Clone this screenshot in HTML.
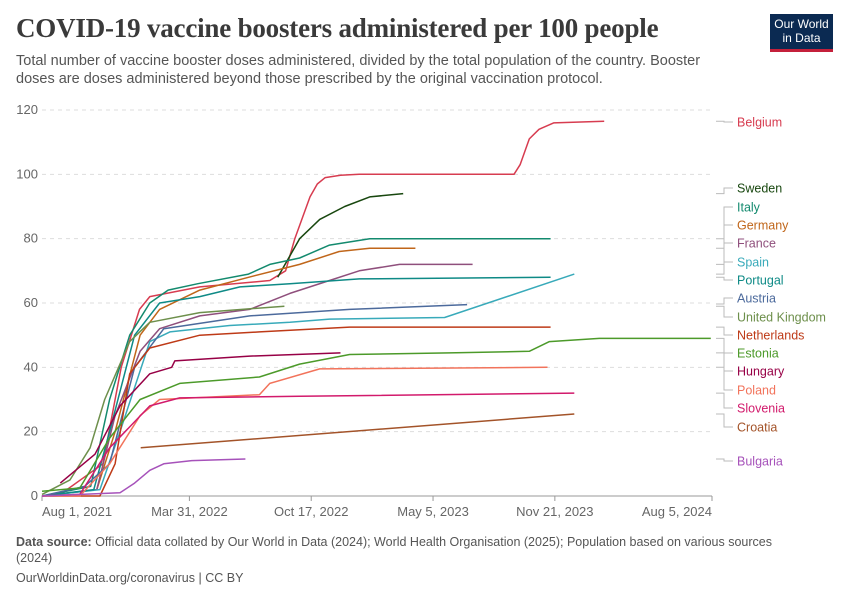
<!DOCTYPE html>
<html><head><meta charset="utf-8"><style>
body{margin:0;background:#fff;font-family:"Liberation Sans",sans-serif}
#wrap{position:relative;width:850px;height:600px;overflow:hidden}
h1{position:absolute;left:16px;top:13px;margin:0;font-family:"Liberation Serif",serif;font-size:27px;font-weight:bold;color:#3a3a3a;letter-spacing:-0.2px}
.sub{position:absolute;left:16px;top:52px;width:720px;font-size:14.5px;line-height:18px;color:#555}
.logo{position:absolute;left:770px;top:14px;width:63px;height:38px;background:#0b2a52;border-bottom:3px solid #c4203b;color:#fff;font-size:12px;text-align:center;line-height:14px;padding-top:3px;box-sizing:border-box}
.foot{position:absolute;left:16px;font-size:12.5px;color:#555;line-height:16px;width:790px}
</style></head><body><div id="wrap">
<h1>COVID-19 vaccine boosters administered per 100 people</h1>
<div class="sub">Total number of vaccine booster doses administered, divided by the total population of the country. Booster doses are doses administered beyond those prescribed by the original vaccination protocol.</div>
<div class="logo">Our World<br>in Data</div>
<svg id="chart" width="850" height="600" style="position:absolute;left:0;top:0"></svg>
<div class="foot" style="top:534px"><b>Data source:</b> Official data collated by Our World in Data (2024); World Health Organisation (2025); Population based on various sources (2024)</div>
<div class="foot" style="top:570px">OurWorldinData.org/coronavirus | CC BY</div>
</div>
<script>
const yTicks=[0,20,40,60,80,100,120];
const xTickLabels=["Aug 1, 2021","Mar 31, 2022","Oct 17, 2022","May 5, 2023","Nov 21, 2023","Aug 5, 2024"];
const xTickDays=[0,242,442,642,842,1100];
const countries=["Belgium","Sweden","Italy","Germany","France","Spain","Portugal","Austria","United Kingdom","Netherlands","Estonia","Hungary","Poland","Slovenia","Croatia","Bulgaria"];
const colors=["#d73c50","#18470f","#138a6e","#c0661a","#8f4f7c","#38aaba","#0e8a86","#4c6a9c","#6d8f4b","#be3a17","#4c9a2a","#970046","#f2735b","#d21a6c","#a35329","#a652ba"];
const labelY=[122,188,207,225,243,262,280,298,317,335,353,371,390,408,427,461];
const belgiumDays=[30,100,130,160,177,259,374,400,415,440,452,465,490,521,775,785,800,816,840,923];
const belgiumVals=[0.5,10,40,58,62,65,67,70,80,93,97,99,99.7,100,100,103,111,114,116,116.5];
const swedenDays=[387,405,423,456,497,538,593];
const swedenVals=[68,74,80,86,90,93,94];
const italyDays=[0,80,111,144,177,207,256,339,374,423,472,538,835];
const italyVals=[0,3,30,50,60,64,66,69,72,74,78,80,80];
const germanyDays=[0,90,120,161,193,259,339,423,488,538,613];
const germanyVals=[0,2,20,50,58,64,68,72,76,77,77];
const franceDays=[0,90,120,161,193,259,341,407,472,521,587,707];
const franceVals=[0,2,25,45,52,56,58,63,67,70,72,72];
const spainDays=[0,95,128,177,210,308,407,472,661,874];
const spainVals=[0,2,20,48,51,53,54,55,55.5,69];
const portugalDays=[0,85,111,152,193,259,325,407,521,835];
const portugalVals=[0,2,20,50,60,62,65,66,67.5,68];
const austriaDays=[0,70,111,152,200,341,505,698];
const austriaVals=[0,3,10,40,52,56,58,59.5,59.7];
const ukDays=[0,46,79,103,144,177,259,398];
const ukVals=[0.5,5,15,30,48,54,57,59];
const netherlandsDays=[0,95,120,144,177,259,357,505,835];
const netherlandsVals=[0,0,10,38,46,50,51,52.5,52.5];
const estoniaDays=[0,62,111,161,226,357,423,505,669,800,833,915,1098];
const estoniaVals=[1.5,2.5,18,30,35,37,41,44,44.5,45,48,49,49];
const hungaryDays=[30,87,128,177,213,218,341,490];
const hungaryVals=[4,13,28,38,40,42,43.5,44.5];
const polandDays=[0,62,111,161,193,357,374,456,830];
const polandVals=[0,0,10,25,30,31.5,35,39.5,40];
const sloveniaDays=[0,62,111,177,226,423,874];
const sloveniaVals=[0,0.5,15,28,30.5,31,32];
const croatiaDays=[162,874];
const croatiaVals=[15,25.5];
const bulgariaDays=[0,128,152,177,200,246,334];
const bulgariaVals=[0,1,4,8,10,11,11.5];
const seriesDays=[belgiumDays,swedenDays,italyDays,germanyDays,franceDays,spainDays,portugalDays,austriaDays,ukDays,netherlandsDays,estoniaDays,hungaryDays,polandDays,sloveniaDays,croatiaDays,bulgariaDays];
const seriesVals=[belgiumVals,swedenVals,italyVals,germanyVals,franceVals,spainVals,portugalVals,austriaVals,ukVals,netherlandsVals,estoniaVals,hungaryVals,polandVals,sloveniaVals,croatiaVals,bulgariaVals];

const L=42,R=712,T=110,B=496;
const x=d=>L+d*(R-L)/1100;
const y=v=>B-v*(B-T)/120;
const svg=document.getElementById('chart');
const NS='http://www.w3.org/2000/svg';
function mk(tag,attrs,parent){const e=document.createElementNS(NS,tag);for(const k in attrs)e.setAttribute(k,attrs[k]);(parent||svg).appendChild(e);return e;}
yTicks.forEach(v=>{
  if(v>0){const g=mk('line',{x1:L,x2:R,y1:y(v),y2:y(v),stroke:'#ddd','stroke-dasharray':'4,4'});
  
  }
  const t=mk('text',{x:38,y:y(v)+4,'text-anchor':'end','font-size':'13','fill':'#666','font-family':'Liberation Sans'});
  t.textContent=v;
  
  
});
const ax=mk('line',{x1:L,x2:R,y1:B,y2:B,stroke:'#999'});


xTickLabels.forEach((lab,i)=>{
  const px=x(xTickDays[i]);
  const tk=mk('line',{x1:px,x2:px,y1:B,y2:B+5,stroke:'#999'});
  
  
  const anchor=i==0?'start':(i==xTickLabels.length-1?'end':'middle');
  const t=mk('text',{x:px,y:B+20,'text-anchor':anchor,'font-size':'13','fill':'#666','font-family':'Liberation Sans'});
  t.textContent=lab;
  
  
});
countries.forEach((c,i)=>{
  const d=seriesDays[i],v=seriesVals[i];
  const pts=d.map((dd,j)=>x(dd).toFixed(1)+','+y(v[j]).toFixed(1)).join(' ');
  const p=mk('polyline',{points:pts,fill:'none',stroke:colors[i],'stroke-width':1.5,'stroke-linejoin':'round'});
  
  
  const endY=y(v[v.length-1]);
  const ly=labelY[i];
  const con=mk('polyline',{points:`716,${endY.toFixed(1)} 724,${endY.toFixed(1)} 724,${ly} 733,${ly}`,fill:'none',stroke:'#bbb','stroke-width':1});
  
  
  const t=mk('text',{x:737,y:labelY[i]+4.5,'font-size':'12.5','fill':colors[i],'font-family':'Liberation Sans'});
  t.textContent=c;
  
  
});
</script></body></html>
